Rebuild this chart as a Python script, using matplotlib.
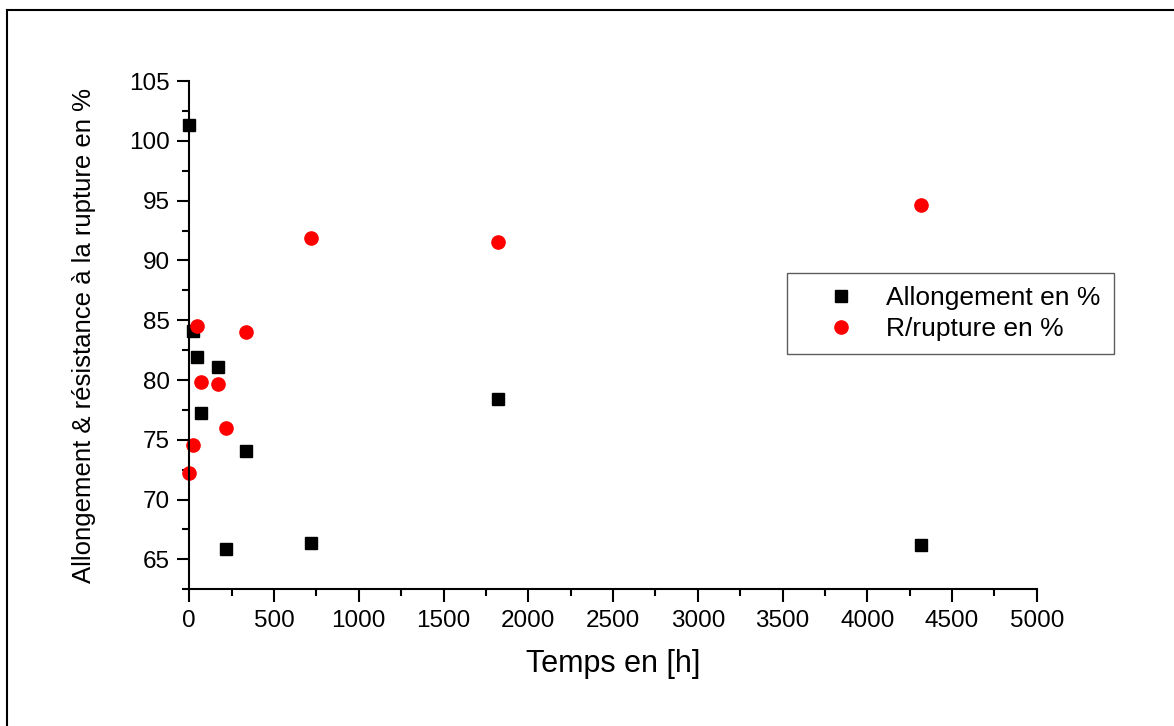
import matplotlib
matplotlib.use('Agg')
import matplotlib.pyplot as plt
from matplotlib.lines import Line2D
from matplotlib.ticker import MultipleLocator

# temps de vieillissement en heures
temps = [0, 24, 48, 72, 168, 216, 336, 720, 1820, 4320]
allongement = [101.3, 84.1, 81.9, 77.2, 81.1, 65.9, 74.1, 66.4, 78.4, 66.2]
r_rupture = [72.2, 74.6, 84.5, 79.8, 79.7, 76.0, 84.0, 91.9, 91.5, 94.6]

plt.rcParams['font.family'] = ['Liberation Sans', 'DejaVu Sans']

fig = plt.figure(figsize=(11.74, 7.26), dpi=100)
ax = fig.add_axes([0.1612, 0.1883, 0.7219, 0.7001])

ax.plot(temps, allongement, linestyle='none', marker='s', markersize=9,
        color='black', label='Allongement en %', clip_on=False)
ax.plot(temps, r_rupture, linestyle='none', marker='o', markersize=9.5,
        color='#ff0000', label='R/rupture en %', clip_on=False)

ax.set_xlim(0, 5000)
ax.set_ylim(62.5, 105)
ax.xaxis.set_major_locator(MultipleLocator(500))
ax.xaxis.set_minor_locator(MultipleLocator(250))
ax.yaxis.set_major_locator(MultipleLocator(5))
ax.yaxis.set_minor_locator(MultipleLocator(2.5))
ax.set_yticks([65, 70, 75, 80, 85, 90, 95, 100, 105])

for s in ['top', 'right']:
    ax.spines[s].set_visible(False)
for s in ['left', 'bottom']:
    ax.spines[s].set_linewidth(1.5)
ax.tick_params(which='major', direction='out', length=9, width=1.5, labelsize=17.5, pad=5)
ax.tick_params(which='minor', direction='out', length=5, width=1.5)
ax.tick_params(axis='x', which='major', pad=6)

ax.set_xlabel('Temps en [h]', fontsize=22, labelpad=12)
ax.set_ylabel('Allongement & résistance à la rupture en %', fontsize=18.5, labelpad=24)

leg = ax.legend(loc='upper left', bbox_to_anchor=(0.6706, 0.6236),
                bbox_transform=fig.transFigure, fontsize=19, frameon=True,
                fancybox=False, borderpad=0.5, handlelength=3.1,
                handletextpad=0.15, labelspacing=0.25, borderaxespad=0)
leg.get_frame().set_edgecolor('#333333')
leg.get_frame().set_linewidth(1.0)

# cadre autour de la figure (haut et gauche)
fig.add_artist(Line2D([7 / 1174, 1], [1 - 10 / 726, 1 - 10 / 726],
                      transform=fig.transFigure, color='black', lw=1.5))
fig.add_artist(Line2D([7 / 1174, 7 / 1174], [0, 1 - 10 / 726],
                      transform=fig.transFigure, color='black', lw=1.5))

fig.savefig('out.png', dpi=100)
